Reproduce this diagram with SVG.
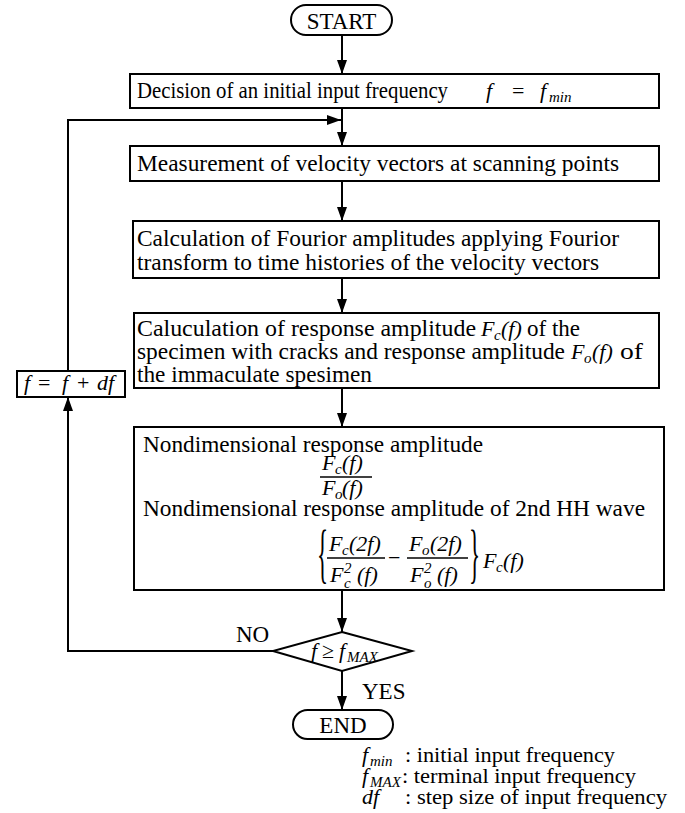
<svg xmlns="http://www.w3.org/2000/svg" width="685" height="813" viewBox="0 0 685 813">
<style>
.box{fill:#fff;stroke:#000;stroke-width:2}
.ln{fill:none;stroke:#000;stroke-width:2}
.t{font-family:"Liberation Serif","Times New Roman",serif;font-size:23px;fill:#000}
.m{font-family:"Liberation Serif","Times New Roman",serif;font-style:italic;font-size:22px;fill:#000}
.s{font-family:"Liberation Serif","Times New Roman",serif;font-style:italic;font-size:15px;fill:#000}
.r{font-family:"Liberation Serif","Times New Roman",serif;font-size:22px;fill:#000}
.lg{font-family:"Liberation Serif","Times New Roman",serif;font-size:21px;fill:#000}
</style>
<defs>
<marker id="ah" markerUnits="userSpaceOnUse" markerWidth="14" markerHeight="10" refX="14" refY="5" orient="auto">
<path d="M0,0 L14,5 L0,10 z" fill="#000"/>
</marker>
</defs>
<g id="connectors">
<line class="ln" x1="342" y1="35" x2="342" y2="74" marker-end="url(#ah)"/>
<line class="ln" x1="342" y1="108" x2="342" y2="146" marker-end="url(#ah)"/>
<polyline class="ln" points="68,371 68,120 341,120" marker-end="url(#ah)"/>
<line class="ln" x1="342" y1="181" x2="342" y2="221" marker-end="url(#ah)"/>
<line class="ln" x1="342" y1="278" x2="342" y2="313" marker-end="url(#ah)"/>
<line class="ln" x1="342" y1="388" x2="342" y2="427" marker-end="url(#ah)"/>
<line class="ln" x1="342" y1="590" x2="342" y2="632" marker-end="url(#ah)"/>
<polyline class="ln" points="273,651 68,651 68,397" marker-end="url(#ah)"/>
<line class="ln" x1="342" y1="671" x2="342" y2="710" marker-end="url(#ah)"/>
<text class="t" x="236" y="642">NO</text>
<text class="t" x="362" y="699">YES</text>
</g>
<g id="start">
<rect class="box" x="291" y="5" width="101" height="30" rx="15"/>
<text class="t" x="341.5" y="29" text-anchor="middle">START</text>
</g>
<g id="init">
<rect class="box" x="130" y="74" width="529" height="34"/>
<text class="t" x="137" y="98" textLength="311" lengthAdjust="spacingAndGlyphs">Decision of an initial input frequency</text>
<text class="m" x="486" y="98">f</text>
<text class="r" x="512" y="98">=</text>
<text class="m" x="540" y="98">f</text>
<text class="s" x="549" y="102">min</text>
</g>
<g id="measure">
<rect class="box" x="130" y="146" width="529" height="35"/>
<text class="t" x="137" y="171" textLength="482" lengthAdjust="spacingAndGlyphs">Measurement of velocity vectors at scanning points</text>
</g>
<g id="fourier">
<rect class="box" x="133" y="221" width="526" height="57"/>
<text class="t" x="137" y="246" textLength="482" lengthAdjust="spacingAndGlyphs">Calculation of Fourior amplitudes applying Fourior</text>
<text class="t" x="137" y="270" textLength="462" lengthAdjust="spacingAndGlyphs">transform to time histories of the velocity vectors</text>
</g>
<g id="response">
<rect class="box" x="134" y="313" width="525" height="75"/>
<text class="t" x="137" y="336" textLength="339" lengthAdjust="spacingAndGlyphs">Caluculation of response amplitude</text>
<text class="m" x="481" y="336">F</text><text class="s" x="494" y="340">c</text><text class="m" x="501" y="336">(f)</text>
<text class="t" x="527" y="336" textLength="53" lengthAdjust="spacingAndGlyphs">of the</text>
<text class="t" x="137" y="359" textLength="428" lengthAdjust="spacingAndGlyphs">specimen with cracks and response amplitude</text>
<text class="m" x="571" y="359">F</text><text class="s" x="584" y="363">o</text><text class="m" x="592" y="359">(f)</text>
<text class="t" x="620" y="359" textLength="23" lengthAdjust="spacingAndGlyphs">of</text>
<text class="t" x="137" y="382" textLength="235" lengthAdjust="spacingAndGlyphs">the immaculate spesimen</text>
</g>
<g id="nondim">
<rect class="box" x="134" y="427" width="530" height="163"/>
<text class="t" x="143" y="452" textLength="340" lengthAdjust="spacingAndGlyphs">Nondimensional response amplitude</text>
<text class="m" x="322" y="470">F</text><text class="s" x="335" y="474">c</text><text class="m" x="342" y="470">(f)</text>
<line x1="320" y1="477" x2="372" y2="477" stroke="#000" stroke-width="1.3"/>
<text class="m" x="322" y="495">F</text><text class="s" x="335" y="499">o</text><text class="m" x="342" y="495">(f)</text>
<text class="t" x="143" y="516" textLength="502" lengthAdjust="spacingAndGlyphs">Nondimensional response amplitude of 2nd HH wave</text>
<text class="r" transform="matrix(0.35 0 0 1 317 575)" style="font-size:66px">{</text>
<text class="m" x="329" y="551">F</text><text class="s" x="342" y="555">c</text><text class="m" x="349" y="551">(2f)</text>
<line x1="327" y1="558" x2="385" y2="558" stroke="#000" stroke-width="1.3"/>
<text class="m" x="330" y="582">F</text><text class="s" x="344" y="573">2</text><text class="s" x="344" y="588">c</text><text class="m" x="357" y="582">(f)</text>
<text class="r" x="388" y="565">−</text>
<text class="m" x="409" y="551">F</text><text class="s" x="422" y="555">o</text><text class="m" x="430" y="551">(2f)</text>
<line x1="407" y1="558" x2="468" y2="558" stroke="#000" stroke-width="1.3"/>
<text class="m" x="410" y="582">F</text><text class="s" x="424" y="573">2</text><text class="s" x="424" y="588">o</text><text class="m" x="437" y="582">(f)</text>
<text class="r" transform="matrix(0.35 0 0 1 469 575)" style="font-size:66px">}</text>
<text class="m" x="483" y="568">F</text><text class="s" x="496" y="572">c</text><text class="m" x="503" y="568">(f)</text>
</g>
<g id="decision">
<polygon class="box" points="342,632 412,651 342,671 273,651"/>
<text class="m" x="311" y="658">f</text>
<text class="r" x="322" y="658">≥</text>
<text class="m" x="339" y="658">f</text>
<text class="s" x="347" y="662">MAX</text>
</g>
<g id="step">
<rect class="box" x="17" y="371" width="108" height="26"/>
<text class="m" x="24" y="390">f</text>
<text class="r" x="38" y="390">=</text>
<text class="m" x="62" y="390">f</text>
<text class="r" x="77" y="390">+</text>
<text class="m" x="97" y="390">df</text>
</g>
<g id="end">
<rect class="box" x="293" y="710" width="100" height="29" rx="14.5"/>
<text class="t" x="343" y="733" text-anchor="middle">END</text>
</g>
<g id="legend">
<text class="m" x="362" y="762">f</text><text class="s" x="370" y="766">min</text>
<text class="lg" x="405" y="762" textLength="210" lengthAdjust="spacingAndGlyphs">: initial input frequency</text>
<text class="m" x="362" y="783">f</text><text class="s" x="370" y="787">MAX</text>
<text class="lg" x="402" y="783" textLength="234" lengthAdjust="spacingAndGlyphs">: terminal input frequency</text>
<text class="m" x="362" y="804">df</text>
<text class="lg" x="405" y="804" textLength="262" lengthAdjust="spacingAndGlyphs">: step size of input frequency</text>
</g>
</svg>
